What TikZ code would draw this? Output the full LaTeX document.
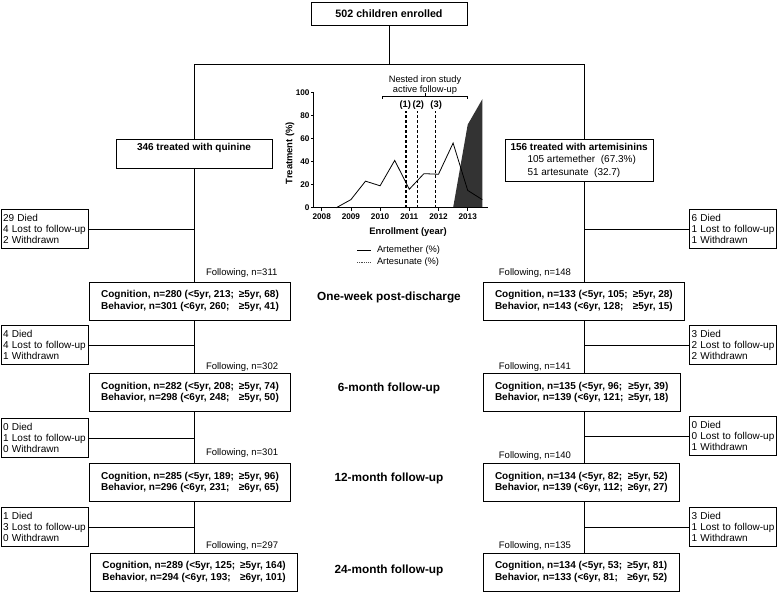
\documentclass[tikz,border=0pt]{standalone}
\usepackage{fontspec}
\setmainfont{Liberation Sans}
\newcommand{\fsBox}{\fontsize{10}{11.5}\selectfont}
\newcommand{\fsDrop}{\fontsize{10}{11.3}\selectfont}
\newcommand{\fsChart}{\fontsize{9.3}{10.5}\selectfont}
\newcommand{\fsTick}{\fontsize{8.2}{9}\selectfont\bfseries}
\newcommand{\rowtab}[4]{\begin{tabular}{@{}l@{\hspace{5pt}}l@{}}#1 & #2\\#3 & #4\end{tabular}}
\begin{document}
\begin{tikzpicture}[x=1pt,y=-1pt,
  every node/.style={inner sep=0pt, outer sep=0pt},
  conn/.style={line width=0.9pt},
  topbox/.style={draw, line width=0.9pt, minimum width=156pt, minimum height=23pt, font=\fontsize{10.7}{12}\selectfont\bfseries},
  stagebox/.style={draw, line width=0.9pt, inner xsep=12pt, minimum height=38pt, font=\fsBox\bfseries},
  dropbox/.style={draw, line width=0.9pt, text width=83pt, inner xsep=2pt, minimum height=39pt, align=left, font=\fsDrop},
  follow/.style={font=\fontsize{9.5}{11}\selectfont},
  stage/.style={font=\fontsize{11.8}{13}\selectfont\bfseries},
  charttext/.style={font=\fsChart},
  charttitle/.style={font=\fontsize{9.4}{10.5}\selectfont\bfseries}]
\useasboundingbox (0,0) rectangle (778,592);

% top
\node[topbox] (top) at (389,13.5) {502 children enrolled};
\coordinate (bar) at (389,64);
\coordinate (L) at (194,64);
\coordinate (R) at (584,64);
\draw[conn] (top.south) -- (bar);
\draw[conn] (L) -- (R);

% treatment boxes
\node[draw, line width=0.9pt, minimum width=156pt, minimum height=29pt] (q) at (194,153.5) {};
\node[font=\fsBox\bfseries] (qt) at (194,148) {346 treated with quinine};
\node[draw, line width=0.9pt, align=left, anchor=north west, inner xsep=5.5pt, inner ysep=4pt, font=\fontsize{10}{12.7}\selectfont] (a) at (505,139)
  {\textbf{156 treated with artemisinins}\\\hspace*{17pt}105 artemether\ \ (67.3\%)\\\hspace*{17pt}51 artesunate\ \ (32.7)};
\draw[conn] (L) -- (L |- q.north);
\draw[conn] (R) -- (R |- a.north);

% left stage boxes
\node[stagebox] (l1) at (190,301) {\rowtab{Cognition, n=280 (<5yr, 213;}{≥5yr, 68)}{Behavior, n=301 (<6yr, 260;}{≥5yr, 41)}};
\node[stagebox] (l2) at (190,392.5) {\rowtab{Cognition, n=282 (<5yr, 208;}{≥5yr, 74)}{Behavior, n=298 (<6yr, 248;}{≥5yr, 50)}};
\node[stagebox] (l3) at (190,482.5) {\rowtab{Cognition, n=285 (<5yr, 189;}{≥5yr, 96)}{Behavior, n=296 (<6yr, 231;}{≥6yr, 65)}};
\node[stagebox] (l4) at (194,572) {\rowtab{Cognition, n=289 (<5yr, 125;}{≥5yr, 164)}{Behavior, n=294 (<6yr, 193;}{≥6yr, 101)}};

% right stage boxes
\node[stagebox, anchor=west] (r1) at (483,301) {\rowtab{Cognition, n=133 (<5yr, 105;}{≥5yr, 28)}{Behavior, n=143 (<6yr, 128;}{≥5yr, 15)}};
\node[stagebox, anchor=west] (r2) at (483,392.5) {\rowtab{Cognition, n=135 (<5yr, 96;}{≥5yr, 39)}{Behavior, n=139 (<6yr, 121;}{≥5yr, 18)}};
\node[stagebox, anchor=west] (r3) at (483,482.5) {\rowtab{Cognition, n=134 (<5yr, 82;}{≥5yr, 52)}{Behavior, n=139 (<6yr, 112;}{≥6yr, 27)}};
\node[stagebox, anchor=west] (r4) at (483,572) {\rowtab{Cognition, n=134 (<5yr, 53;}{≥5yr, 81)}{Behavior, n=133 (<6yr, 81;}{≥6yr, 52)}};

% trunks
\draw[conn] (L |- q.south) -- (L |- l1.north);
\draw[conn] (L |- l1.south) -- (L |- l2.north);
\draw[conn] (L |- l2.south) -- (L |- l3.north);
\draw[conn] (L |- l3.south) -- (L |- l4.north);
\draw[conn] (R |- a.south) -- (R |- r1.north);
\draw[conn] (R |- r1.south) -- (R |- r2.north);
\draw[conn] (R |- r2.south) -- (R |- r3.north);
\draw[conn] (R |- r3.south) -- (R |- r4.north);

% dropouts left
\node[dropbox] (ld1) at (44.5,229) {29 Died\\4 Lost to follow-up\\2 Withdrawn};
\node[dropbox] (ld2) at (44.5,345) {4 Died\\4 Lost to follow-up\\1 Withdrawn};
\node[dropbox] (ld3) at (44.5,438) {0 Died\\1 Lost to follow-up\\0 Withdrawn};
\node[dropbox] (ld4) at (44.5,527) {1 Died\\3 Lost to follow-up\\0 Withdrawn};
% dropouts right
\node[dropbox] (rd1) at (733,229) {6 Died\\1 Lost to follow-up\\1 Withdrawn};
\node[dropbox] (rd2) at (733,345) {3 Died\\2 Lost to follow-up\\2 Withdrawn};
\node[dropbox] (rd3) at (733,436) {0 Died\\0 Lost to follow-up\\1 Withdrawn};
\node[dropbox] (rd4) at (733,527) {3 Died\\1 Lost to follow-up\\1 Withdrawn};
\foreach \d in {ld1,ld2,ld3,ld4} \draw[conn] (\d.east) -- (L |- \d.east);
\foreach \d in {rd1,rd2,rd3,rd4} \draw[conn] (\d.west) -- (R |- \d.west);

% following labels
\node[follow, anchor=west] (fl1) at (206,273) {Following, n=311};
\node[follow, anchor=west] (fl2) at (206,367) {Following, n=302};
\node[follow, anchor=west] (fl3) at (206,453) {Following, n=301};
\node[follow, anchor=west] (fl4) at (206,546) {Following, n=297};
\node[follow, anchor=east] (fr1) at (571,273) {Following, n=148};
\node[follow, anchor=east] (fr2) at (571,367) {Following, n=141};
\node[follow, anchor=east] (fr3) at (571,456) {Following, n=140};
\node[follow, anchor=east] (fr4) at (571,546) {Following, n=135};

% stage labels
\node[stage] (s1) at (389,297) {One-week post-discharge};
\node[stage] (s2) at (389,388) {6-month follow-up};
\node[stage] (s3) at (389,478) {12-month follow-up};
\node[stage] (s4) at (389,570) {24-month follow-up};

% chart
\begin{scope}[shift={(321.7pt,-207.7pt)}, x=29.2pt, y=1.154pt]
  \fill[black!80] (4.5,0) -- (5.0,72) -- (5.5,94) -- (5.5,0) -- cycle;
  \draw[line width=0.8pt, line join=miter] (0.5,0) -- (1,7) -- (1.5,23) -- (2,19) -- (2.5,41) -- (3,16) -- (3.5,29.5) -- (4,29) -- (4.5,56) -- (5,15) -- (5.5,7);
  \foreach \u in {2.89,3.29,3.89} \draw[line width=1.2pt, dash pattern=on 3pt off 2pt] (\u,0) -- (\u,84);
  \node[font=\fsChart\bfseries] (n1) at (2.86,88.9) {(1)};
  \node[font=\fsChart\bfseries] (n2) at (3.31,88.9) {(2)};
  \node[font=\fsChart\bfseries] (n3) at (3.92,88.9) {(3)};
  \draw[line width=0.8pt] (2.09,94.3) -- (2.09,96.8) -- (5.0,96.8) -- (5.0,94.3);
  \draw[line width=0.8pt] (3.54,96.8) -- (3.54,99);
  \draw[line width=1pt] (-0.264,100) -- (-0.264,0) -- (5.70,0);
  \foreach \v in {0,20,40,60,80,100} {
    \draw[line width=0.8pt] (-0.264,\v) -- ++(-3pt,0pt);
    \node[font=\fsTick, anchor=east, xshift=-4.5pt] (yt\v) at (-0.264,\v) {\v};
  }
  \foreach \u/\yr in {0/2008,1/2009,2/2010,3/2011,4/2012,5/2013} {
    \draw[line width=0.8pt] (\u,0) -- ++(0pt,-3pt);
    \node[font=\fsTick, yshift=-9pt] (xt\yr) at (\u,0) {\yr};
  }
\end{scope}
\node[charttext] (nest1) at (425,80) {Nested iron study};
\node[charttext] (nest2) at (425,90.5) {active follow-up};
\node[charttitle, rotate=90] (ylab) at (290,153) {Treatment (\%)};
\node[charttitle] (xlab) at (408,231.7) {Enrollment (year)};
\draw[line width=0.8pt] (357,250) -- (371,250);
\node[charttext, anchor=west] (leg1) at (377,250) {Artemether (\%)};
\draw[line width=0.8pt, black!70, dash pattern=on 0.8pt off 1pt] (357,262) -- (371,262);
\node[charttext, anchor=west] (leg2) at (377,262) {Artesunate (\%)};
\end{tikzpicture}
\end{document}
